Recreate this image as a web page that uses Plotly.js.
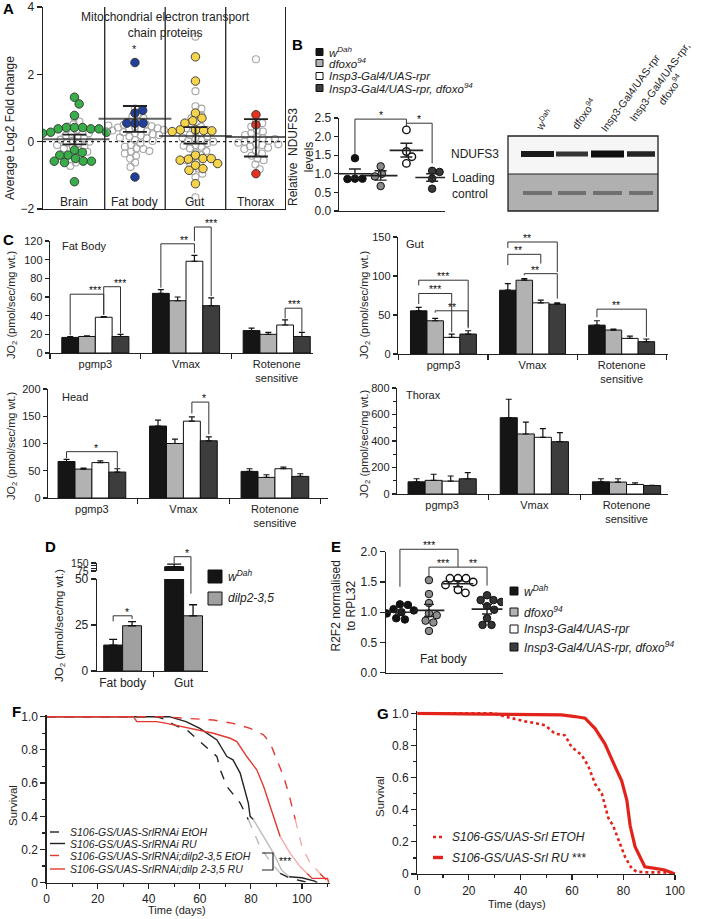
<!DOCTYPE html>
<html><head><meta charset="utf-8">
<script src="https://cdn.plot.ly/plotly-3.0.1.min.js"></script>
<style>html,body{margin:0;padding:0;background:#fff}#chart{width:709px;height:919px}</style>
</head><body><div id="chart"></div>
<script>
// ================= DATA =================
// Panel A
const aCategories = ['Brain', 'Fat body', 'Gut', 'Thorax'];
const aBrainOther = [0.72, 0.6, 0.52, 0.45, 0.35, 0.3, 0.22, 0.18, 0.15, 0.1, 0.06, 0.03, 0.0, -0.03, -0.06, -0.1, -0.13, -0.16, -0.2, -0.25, -0.3, -0.35, -0.45, -0.52, -0.62, -0.72, 0.25];
const aBrainETC = [1.32, 1.12, 0.78, 0.42, 0.42, 0.42, 0.38, 0.38, 0.38, 0.28, 0.28, 0.25, -0.25, -0.32, -0.40, -0.40, -0.50, -0.58, -0.58, -0.58, -0.62, -1.19];
const aFatOther = [0.98, 0.82, 0.75, 0.7, 0.62, 0.58, 0.52, 0.5, 0.46, 0.44, 0.42, 0.4, 0.38, 0.36, 0.33, 0.3, 0.28, 0.25, 0.22, 0.18, 0.15, 0.12, 0.1, 0.05, 0.02, -0.05, -0.1, -0.15, -0.2, -0.22, -0.28, -0.3, -0.35, -0.42, -0.5, -0.62, -0.75, 0.48, 0.35, 0.2];
const aFatETC = [2.35, 0.85, 0.93, 0.55, 0.55, 0.55, -1.05];
const aGutOther = [3.12, 1.5, 1.05, 0.98, 0.85, 0.78, 0.7, 0.6, 0.5, 0.45, 0.4, 0.3, 0.25, 0.2, 0.15, 0.1, 0.05, 0.02, -0.05, -0.1, -0.15, -0.2, -0.28, -0.32, -0.4, -0.48, -0.55, -0.62, -0.7, -0.8, -0.88, -0.95, -1.05, -1.65, 0.12, 0.0, -0.12, 0.35];
const aGutETC = [2.52, 1.8, 0.85, 0.7, 0.62, 0.55, 0.35, 0.33, 0.35, 0.32, 0.3, -0.4, -0.5, -0.52, -0.55, -0.5, -0.7, -0.8, -0.85, -0.65, -1.25];
const aThoraxOther = [2.45, 0.58, 0.55, 0.45, 0.35, 0.3, 0.25, 0.2, 0.14, 0.1, 0.06, 0.03, 0.0, -0.03, -0.06, -0.1, -0.14, -0.18, -0.22, -0.28, -0.35, -0.42, -0.5, -0.55, -0.68, -0.82, 0.08, -0.08];
const aThoraxETC = [0.8, 0.5, -0.95];
const aMean = [0.07, 0.68, 0.17, 0.14];
const aErrHigh = [0.21, 1.06, 0.43, 0.67];
const aErrLow = [-0.08, 0.29, -0.06, -0.44];

// Genotypes (B, C, E)
const genotypes = ['w<sup>Dah</sup>', 'dfoxo<sup>94</sup>', 'Insp3-Gal4/UAS-rpr', 'Insp3-Gal4/UAS-rpr, dfoxo<sup>94</sup>'];

// Panel B
const bValues = [[1.42, 0.87, 0.87, 0.86], [1.2, 1.0, 0.93, 0.67], [2.18, 1.6, 1.46, 1.28], [1.08, 1.05, 0.87, 0.6]];
const bMean = [1.0, 0.95, 1.63, 0.9];
const bSemLow = [0.88, 0.83, 1.45, 0.8];
const bSemHigh = [1.13, 1.08, 1.82, 1.0];
const blotLanes = ['w<sup>Dah</sup>', 'dfoxo<sup>94</sup>', 'Insp3-Gal4/UAS-rpr', 'Insp3-Gal4/UAS-rpr,<br>dfoxo<sup>94</sup>'];

// Panel C (rows = genotype, columns = measure)
const cMeasures = ['pgmp3', 'Vmax', 'Rotenone<br>sensitive'];
const cFatBody = [[16.7, 63.9, 24.0], [17.7, 56.0, 20.0], [38.3, 98.3, 30.0], [17.7, 50.7, 17.7]];
const cFatBodyErr = [[1.0, 4.1, 2.6], [0.8, 4.0, 2.0], [0.7, 6.4, 5.5], [2.3, 8.3, 4.3]];
const cGut = [[55.4, 81.8, 37.0], [42.6, 94.6, 30.7], [21.3, 65.6, 20.0], [25.6, 63.9, 15.8]];
const cGutErr = [[4.3, 8.5, 5.6], [3.0, 2.1, 1.3], [4.3, 3.4, 3.0], [4.2, 1.7, 3.4]];
const cHead = [[67, 132, 48.8], [53, 100, 37.8], [65, 141, 53.7], [47.6, 105, 39.6]];
const cHeadErr = [[4, 11, 4.9], [2, 8, 4.9], [3, 8, 3], [6.1, 7, 4.9]];
const cThorax = [[92, 576, 92], [103, 453, 90], [97, 428, 72], [115, 395, 64]];
const cThoraxErr = [[23, 139, 23], [46, 90, 25], [39, 65, 13], [47, 68, 2]];
// significance: [measure, genotypeA, genotypeB, bottomA, bottomB, top, label]
const cFatSig = [[0, 0, 2, 19, 41, 63, '***'], [0, 2, 3, 41, 21, 71, '***'], [1, 0, 2, 70, 107, 117, '**'], [1, 2, 3, 120, 61, 135, '***'], [2, 2, 3, 37, 23, 48, '***']];
const cGutSig = [[0, 0, 2, 64, 28, 77.6, '***'], [0, 0, 3, 88, 33, 94.6, '***'], [0, 1, 3, 53, 35, 55.4, '**'], [1, 0, 2, 114, 116, 127.8, '**'], [1, 0, 3, 136, 105, 143.6, '**'], [1, 1, 3, 101, 71, 103, '**'], [2, 0, 3, 47, 22, 57.5, '**']];
const cHeadSig = [[0, 0, 3, 73, 55, 85, '*'], [1, 2, 3, 155, 117, 176, '*']];

// Panel D
const dTissues = ['Fat body', 'Gut'];
const dGenotypes = ['w<sup>Dah</sup>', 'dilp2-3,5'];
const dValues = [[14.1, 115], [24.6, 30]];
const dErr = [[3.1, 25], [2.2, 6]];

// Panel E
const eValues = [[1.13, 1.12, 1.05, 1.03, 1.0, 0.98, 0.9, 0.88], [1.53, 1.3, 1.15, 0.98, 0.95, 0.86, 0.83, 0.69], [1.56, 1.56, 1.56, 1.5, 1.45, 1.37, 1.32], [1.28, 1.2, 1.2, 1.17, 1.1, 1.04, 0.9, 0.79, 0.79]];
const eMean = [1.0, 1.03, 1.47, 1.05];
const eSemLow = [0.97, 0.93, 1.42, 0.97];
const eSemHigh = [1.04, 1.13, 1.52, 1.13];

// Panel F (survival)
const fNames = ['S106-GS/UAS-SrlRNAi EtOH', 'S106-GS/UAS-SrlRNAi RU', 'S106-GS/UAS-SrlRNAi;dilp2-3,5 EtOH', 'S106-GS/UAS-SrlRNAi;dilp 2-3,5 RU'];
const fDaysEtOH = [0, 43, 47, 50, 54.9, 60, 66.7, 68, 70.6, 75.8, 78.4, 79, 83.6, 87.6, 91.5, 95.4, 100, 103];
const fSurvEtOH = [1, 1, 0.98, 0.95, 0.92, 0.85, 0.76, 0.68, 0.58, 0.48, 0.40, 0.38, 0.217, 0.127, 0.056, 0.026, 0.01, 0];
const fDaysRU = [0, 48, 54.6, 60, 66.7, 70.6, 73, 75.8, 79, 79.7, 81, 85, 88.9, 92, 95, 100, 105, 106];
const fSurvRU = [1, 1, 0.97, 0.93, 0.86, 0.76, 0.74, 0.66, 0.48, 0.40, 0.38, 0.277, 0.177, 0.077, 0.036, 0.03, 0.01, 0];
const fDaysDilpEtOH = [0, 45.7, 54.9, 65.3, 73, 79.7, 85, 87.6, 90.2, 92.8, 94.8, 96.8, 97.4, 100, 103.9, 105.9, 107, 110];
const fSurvDilpEtOH = [1, 1, 0.99, 0.98, 0.96, 0.93, 0.89, 0.84, 0.74, 0.64, 0.54, 0.42, 0.38, 0.217, 0.097, 0.077, 0.056, 0.01];
const fDaysDilpRU = [0, 34, 35.3, 43, 47, 60, 65.3, 71.9, 74.5, 78.4, 82.3, 85, 87.6, 88.9, 91.5, 95.4, 99.3, 102, 104, 110, 110.5];
const fSurvDilpRU = [1, 1, 0.97, 0.97, 0.96, 0.92, 0.90, 0.87, 0.85, 0.76, 0.68, 0.58, 0.46, 0.40, 0.277, 0.177, 0.097, 0.056, 0.026, 0.026, 0];

// Panel G (survival)
const gNames = ['S106-GS/UAS-Srl ETOH', 'S106-GS/UAS-Srl RU'];
const gDaysETOH = [0, 30, 34, 36.6, 41.8, 45.7, 49.6, 53.4, 57.3, 59.9, 63.8, 66.4, 69, 71.6, 74.1, 76, 78, 80.6, 83.2, 85.1, 90, 96, 100];
const gSurvETOH = [1, 1, 0.98, 0.97, 0.95, 0.94, 0.925, 0.874, 0.863, 0.79, 0.74, 0.67, 0.56, 0.50, 0.35, 0.30, 0.21, 0.107, 0.035, 0.014, 0.01, 0.01, 0];
const gDaysRU = [0, 56, 61.2, 65.1, 69, 72.8, 76.7, 79.3, 81.3, 82.6, 84.5, 88.3, 92.2, 96, 100];
const gSurvRU = [1, 0.99, 0.98, 0.97, 0.905, 0.81, 0.67, 0.58, 0.46, 0.30, 0.17, 0.045, 0.035, 0.025, 0];

// ================= LAYOUT HELPERS =================
const FONT = 'Liberation Sans, Arial, Helvetica, sans-serif';
const INK = '#222';
const W = 709, H = 919;
const X = px => px / W, Y = py => 1 - py / H;
const genoFill = ['#151515', '#b2b2b2', '#ffffff', '#3d3d3d'];

const P = {
  A: {n: 1, x: [X(43), X(285)], y: [Y(209), Y(7)], rx: [-0.52, 3.48], ry: [-2, 4]},
  B: {n: 2, x: [X(339), X(445)], y: [Y(211), Y(118)], rx: [-0.62, 3.5], ry: [0, 2.5]},
  C1: {n: 3, x: [X(50), X(313)], y: [Y(353), Y(241)], rx: [-0.5, 2.4], ry: [0, 120]},
  C2: {n: 4, x: [X(398), X(668)], y: [Y(354), Y(237)], rx: [-0.51, 2.52], ry: [0, 150]},
  C3: {n: 5, x: [X(48), X(328)], y: [Y(498), Y(389)], rx: [-0.48, 2.58], ry: [0, 200]},
  C4: {n: 6, x: [X(397), X(668)], y: [Y(494), Y(388)], rx: [-0.49, 2.45], ry: [0, 800]},
  D1: {n: 7, x: [X(97), X(208)], y: [Y(671), Y(579)], rx: [-0.42, 1.4], ry: [0, 50]},
  D2: {n: 8, x: [X(97), X(208)], y: [Y(571), Y(563)], rx: [-0.42, 1.4], ry: [75, 150]},
  E: {n: 9, x: [X(386), X(503)], y: [Y(672.7), Y(551.7)], rx: [-0.48, 3.55], ry: [0, 2]},
  F: {n: 10, x: [X(46.7), X(330)], y: [Y(882.7), Y(714.7)], rx: [0, 111], ry: [0, 1.012]},
  G: {n: 11, x: [X(417.3), X(675)], y: [Y(874), Y(711.4)], rx: [0, 100], ry: [0, 1.012]}
};
const xr = p => 'x' + (p.n === 1 ? '' : p.n);
const yr = p => 'y' + (p.n === 1 ? '' : p.n);
const M = p => ({
  x: v => p.x[0] + (v - p.rx[0]) / (p.rx[1] - p.rx[0]) * (p.x[1] - p.x[0]),
  y: v => p.y[0] + (v - p.ry[0]) / (p.ry[1] - p.ry[0]) * (p.y[1] - p.y[0])
});

const traces = [], shapes = [], annotations = [];
const layout = {
  width: W, height: H, margin: {l: 0, r: 0, t: 0, b: 0}, paper_bgcolor: '#fff', plot_bgcolor: 'rgba(0,0,0,0)',
  showlegend: false, barmode: 'overlay', hovermode: false, font: {family: FONT, color: INK, size: 11}
};

function axis(p, which, extra) {
  return Object.assign({
    domain: p[which], range: p['r' + which], anchor: which === 'x' ? yr(p) : xr(p),
    showgrid: false, zeroline: false, showline: true, linecolor: INK, linewidth: 1.3,
    ticks: 'outside', ticklen: 4, tickwidth: 1.2, tickcolor: INK,
    tickfont: {family: FONT, size: 11, color: INK}, fixedrange: true
  }, extra || {});
}
function setAxes(p, xe, ye) {
  layout['xaxis' + (p.n === 1 ? '' : p.n)] = axis(p, 'x', xe);
  layout['yaxis' + (p.n === 1 ? '' : p.n)] = axis(p, 'y', ye);
}
function txt(px, py, text, o) {
  annotations.push(Object.assign({xref: 'paper', yref: 'paper', x: X(px), y: Y(py), text: text, showarrow: false,
    xanchor: 'center', yanchor: 'middle', font: {family: FONT, size: 12, color: INK}}, o || {}));
}
function pxLine(x0, y0, x1, y1, o) {
  shapes.push(Object.assign({type: 'line', xref: 'paper', yref: 'paper', x0: X(x0), y0: Y(y0), x1: X(x1), y1: Y(y1), line: {color: INK, width: 1}}, o || {}));
}
const STAR = {family: FONT, size: 10.5, color: '#111'};
function bracket(p, x1, b1, x2, b2, top, label, lx) {
  const m = M(p);
  let path = 'M' + m.x(x1) + ',' + m.y(b1) + 'L' + m.x(x1) + ',' + m.y(top) + 'L' + m.x(x2) + ',' + m.y(top);
  if (b2 !== null) path += 'L' + m.x(x2) + ',' + m.y(b2);
  shapes.push({type: 'path', xref: 'paper', yref: 'paper', path: path, line: {color: '#333', width: 1}});
  if (label) annotations.push({xref: 'paper', yref: 'paper', x: m.x(lx === undefined ? (x1 + x2) / 2 : lx), y: m.y(top),
    yanchor: 'bottom', yshift: -4, text: label, showarrow: false, font: STAR});
}
// simple beeswarm: returns horizontal offsets (data units) for values
function swarm(vals, pxX, pxY, diam, placed) {
  return vals.map(v => {
    const y = v * pxY;
    const cands = [0];
    placed.forEach(q => {
      const dy = Math.abs(q.y - y);
      if (dy < diam) { const dx = Math.sqrt(diam * diam - dy * dy); cands.push(q.x + dx + 0.01, q.x - dx - 0.01); }
    });
    cands.sort((a, b) => Math.abs(a) - Math.abs(b));
    let chosen = 0;
    for (const c of cands) {
      if (placed.every(q => (q.x - c) ** 2 + (q.y - y) ** 2 >= diam * diam - 0.01)) { chosen = c; break; }
    }
    placed.push({x: chosen, y: y});
    return chosen / pxX;
  });
}

// ================= PANEL A =================
(function () {
  const p = P.A;
  setAxes(p, {showticklabels: false, ticks: ''}, {tickvals: [-2, 0, 2, 4], ticklen: 5, mirror: true, tickfont: {family: FONT, size: 12, color: INK}});
  const others = [aBrainOther, aFatOther, aGutOther, aThoraxOther];
  const etc = [aBrainETC, aFatETC, aGutETC, aThoraxETC];
  const cols = ['#39ad4a', '#21409a', '#f5d44b', '#e3321f'];
  aCategories.forEach((c, i) => {
    const oo = swarm(others[i], 60.5, 33.7, 6.4, []);
    const oc = swarm(etc[i], 60.5, 33.7, 8.2, []);
    traces.push({type: 'scatter', mode: 'markers', x: oo.map(o => i + o), y: others[i], xaxis: xr(p), yaxis: yr(p),
      marker: {symbol: 'circle-open', size: 7, color: '#a6a6a6', line: {width: 1.1}}});
    traces.push({type: 'scatter', mode: 'markers', x: oc.map(o => i + o), y: etc[i], xaxis: xr(p), yaxis: yr(p),
      marker: {symbol: 'circle', size: 8.5, color: cols[i], line: {width: 0.9, color: '#333'}}});
    annotations.push({xref: xr(p), yref: yr(p), x: i, y: -1.8, text: c, showarrow: false, font: {family: FONT, size: 12, color: INK}});
  });
  traces.push({type: 'scatter', mode: 'markers', x: [0, 1, 2, 3], y: aMean, xaxis: xr(p), yaxis: yr(p),
    marker: {symbol: 'line-ew', size: [50, 52, 52, 44], line: {width: 2, color: INK}},
    error_y: {type: 'data', symmetric: false, array: aErrHigh.map((h, i) => h - aMean[i]), arrayminus: aErrLow.map((l, i) => aMean[i] - l), width: 12, thickness: 1.8, color: INK}});
  [0.5, 1.5, 2.5].forEach(v => shapes.push({type: 'line', xref: xr(p), yref: yr(p), x0: v, x1: v, y0: -2, y1: 4, line: {color: INK, width: 1.3}}));
  shapes.push({type: 'line', xref: xr(p), yref: yr(p), x0: p.rx[0], x1: p.rx[1], y0: 0, y1: 0, line: {color: INK, width: 1.2, dash: 'dot'}});
  annotations.push({xref: xr(p), yref: yr(p), x: 1.5, y: 3.47, text: 'Mitochondrial electron transport<br>chain proteins', showarrow: false, font: {family: FONT, size: 12, color: INK}});
  annotations.push({xref: xr(p), yref: yr(p), x: 1, y: 2.75, text: '*', showarrow: false, font: {family: FONT, size: 11, color: INK}});
  txt(10, 128, 'Average Log2 Fold change', {textangle: -90});
})();

// ================= PANEL B =================
(function () {
  const p = P.B;
  setAxes(p, {showticklabels: false, ticks: ''}, {dtick: 0.5, tickformat: '.1f', tickfont: {family: FONT, size: 12, color: INK}});
  const fills = ['#111', '#8a8a8a', '#fff', '#3a3a3a'];
  bValues.forEach((vals, g) => {
    const off = swarm(vals, 25.7, 37, 7.5, []);
    traces.push({type: 'scatter', mode: 'markers', x: off.map(o => g + o), y: vals, xaxis: xr(p), yaxis: yr(p),
      marker: {symbol: 'circle', size: 7.5, color: fills[g], line: {width: g === 2 ? 1.4 : 1, color: '#111'}}});
  });
  traces.push({type: 'scatter', mode: 'markers', x: [0, 1, 2, 3], y: bMean, xaxis: xr(p), yaxis: yr(p),
    marker: {symbol: 'line-ew', size: 24, line: {width: 1.6, color: INK}},
    error_y: {type: 'data', symmetric: false, array: bSemHigh.map((h, i) => h - bMean[i]), arrayminus: bSemLow.map((l, i) => bMean[i] - l), width: 6, thickness: 1.4, color: INK}});
  bracket(p, 0, 1.5, 2, 2.27, 2.47, '*');
  bracket(p, 2, 2.36, 3, 1.28, 2.36, '*');
  txt(301, 157, 'Relative  NDUFS3<br>levels', {textangle: -90});
  // legend (B)
  const ly = [52, 63, 76, 88];
  genotypes.forEach((gname, g) => {
    shapes.push({type: 'rect', xref: 'paper', yref: 'paper', x0: X(316), x1: X(323), y0: Y(ly[g] + 3.5), y1: Y(ly[g] - 3.5), fillcolor: genoFill[g], line: {color: '#111', width: 1}});
    txt(327, ly[g], '<i>' + gname + '</i>', {xanchor: 'left', font: {family: FONT, size: 11.5, color: INK}});
  });
  // western blot
  shapes.push({type: 'rect', xref: 'paper', yref: 'paper', x0: X(508), x1: X(658), y0: Y(174), y1: Y(136), fillcolor: '#f6f6f6', line: {width: 0}});
  shapes.push({type: 'rect', xref: 'paper', yref: 'paper', x0: X(508), x1: X(658), y0: Y(211), y1: Y(174), fillcolor: '#b0b0b0', line: {width: 0}});
  const laneX = [[521, 554], [556, 588], [591, 624], [627, 655]];
  const bandH = [6, 5, 7, 5.5], bandC = ['#1a1a1a', '#353535', '#0e0e0e', '#252525'];
  laneX.forEach((lx, i) => {
    shapes.push({type: 'rect', xref: 'paper', yref: 'paper', x0: X(lx[0]), x1: X(lx[1]), y0: Y(154 + bandH[i] / 2), y1: Y(154 - bandH[i] / 2), fillcolor: bandC[i], line: {width: 0}});
    shapes.push({type: 'rect', xref: 'paper', yref: 'paper', x0: X(lx[0] + 2), x1: X(lx[1] - 2), y0: Y(195), y1: Y(191), fillcolor: '#707070', line: {width: 0}});
  });
  shapes.push({type: 'rect', xref: 'paper', yref: 'paper', x0: X(508), x1: X(658), y0: Y(211), y1: Y(136), line: {color: INK, width: 1.3}});
  pxLine(508, 174, 658, 174, {line: {color: INK, width: 1.2}});
  const lc = [[544, 120], [583, 113], [630, 93], [665, 86]];
  blotLanes.forEach((t, i) => txt(lc[i][0], lc[i][1], t, {textangle: -54, font: {family: FONT, size: 10.5, color: INK}}));
  txt(449, 154, 'NDUFS3', {xanchor: 'left'});
  txt(450, 186, 'Loading<br>control', {xanchor: 'left', align: 'left'});
})();

// ================= PANEL C =================
(function () {
  const barPos = g => -0.2775 + g * 0.185;
  const sets = [
    [P.C1, cFatBody, cFatBodyErr, 20, 'Fat Body', [60, 246], [12, 305], cFatSig, null],
    [P.C2, cGut, cGutErr, 50, 'Gut', [404, 244], [365, 305], cGutSig, null],
    [P.C3, cHead, cHeadErr, 50, 'Head', [60, 397], [12, 446], cHeadSig, null],
    [P.C4, cThorax, cThoraxErr, 200, 'Thorax', [404, 395], [365, 444], [], 100]
  ];
  sets.forEach(([p, vals, errs, dt, name, lp, tp, sig, minor]) => {
    const ye = {dtick: dt};
    if (minor) ye.minor = {dtick: minor, ticks: 'outside', ticklen: 2.5, tickcolor: INK};
    setAxes(p, {type: 'category', categoryarray: cMeasures, tickson: 'boundaries', ticklen: 5}, ye);
    vals.forEach((v, g) => traces.push({type: 'bar', x: cMeasures, y: v, width: 0.185, offset: -0.37 + g * 0.185,
      xaxis: xr(p), yaxis: yr(p), marker: {color: genoFill[g], line: {color: '#111', width: 1}},
      error_y: {type: 'data', symmetric: false, array: errs[g], arrayminus: v.map(() => 0), width: 3, thickness: 1.2, color: '#111'}}));
    sig.forEach(s => bracket(p, s[0] + barPos(s[1]), s[3], s[0] + barPos(s[2]), s[4], s[5], s[6]));
    txt(lp[0], lp[1], name, {xanchor: 'left', font: {family: FONT, size: 11, color: INK}});
    txt(tp[0], tp[1], 'JO<sub>2</sub> (pmol/sec/mg wt.)', {textangle: -90, font: {family: FONT, size: 11, color: INK}});
  });
})();

// ================= PANEL D =================
(function () {
  const p1 = P.D1, p2 = P.D2;
  setAxes(p1, {type: 'category', categoryarray: dTissues, tickson: 'boundaries', ticklen: 5, tickfont: {family: FONT, size: 12, color: INK}},
    {tickvals: [0, 25, 50], ticklen: 5, tickfont: {family: FONT, size: 12, color: INK}});
  setAxes(p2, {type: 'category', categoryarray: dTissues, visible: false},
    {tickvals: [75, 100, 125, 150], ticktext: ['75', '', '', '150'], ticklen: 5, tickfont: {family: FONT, size: 10.5, color: INK}});
  const fills = ['#151515', '#a0a0a0'];
  [p1, p2].forEach(p => dValues.forEach((v, g) => traces.push({type: 'bar', x: dTissues, y: v, width: 0.31, offset: -0.31 + g * 0.31,
    xaxis: xr(p), yaxis: yr(p), marker: {color: fills[g], line: {color: '#111', width: 1}},
    error_y: {type: 'data', symmetric: false, array: dErr[g], arrayminus: v.map(() => 0), width: p === p2 ? 7 : 4, thickness: 1.3, color: '#111'}})));
  bracket(p1, -0.155, 27, 0.155, 28.3, 30, '*');
  const m1 = M(p1), m2 = M(p2);
  shapes.push({type: 'path', xref: 'paper', yref: 'paper', line: {color: '#333', width: 1},
    path: 'M' + m2.x(0.845) + ',' + Y(563.5) + 'L' + m2.x(0.845) + ',' + Y(556.7) + 'L' + m1.x(1.12) + ',' + Y(556.7) + 'L' + m1.x(1.12) + ',' + m1.y(42)});
  annotations.push({xref: 'paper', yref: 'paper', x: (m2.x(0.845) + m1.x(1.12)) / 2, y: Y(556.7), yanchor: 'bottom', yshift: -4, text: '*', showarrow: false, font: STAR});
  txt(60, 625, 'JO<sub>2</sub> (pmol/sec/mg wt.)', {textangle: -90, font: {family: FONT, size: 11.5, color: INK}});
  shapes.push({type: 'rect', xref: 'paper', yref: 'paper', x0: X(208), x1: X(222), y0: Y(583), y1: Y(570), fillcolor: '#151515', line: {color: '#111', width: 1}});
  shapes.push({type: 'rect', xref: 'paper', yref: 'paper', x0: X(208), x1: X(222), y0: Y(605), y1: Y(592), fillcolor: '#a0a0a0', line: {color: '#111', width: 1}});
  txt(226, 576, '<i>' + dGenotypes[0] + '</i>', {xanchor: 'left'});
  txt(226, 598, '<i>' + dGenotypes[1] + '</i>', {xanchor: 'left'});
})();

// ================= PANEL E =================
(function () {
  const p = P.E;
  setAxes(p, {showticklabels: false, ticks: ''}, {dtick: 0.5, tickformat: '.1f', ticklen: 5, tickfont: {family: FONT, size: 12, color: INK}});
  const fills = ['#111', '#8f8f8f', '#fff', '#333'];
  eValues.forEach((vals, g) => {
    const off = swarm(vals, 29, 60.4, 8, []);
    traces.push({type: 'scatter', mode: 'markers', x: off.map(o => g + o), y: vals, xaxis: xr(p), yaxis: yr(p),
      marker: {symbol: 'circle', size: 7.5, color: fills[g], line: {width: g === 2 ? 1.4 : 1, color: '#111'}}});
  });
  traces.push({type: 'scatter', mode: 'markers', x: [0, 1, 2, 3], y: eMean, xaxis: xr(p), yaxis: yr(p),
    marker: {symbol: 'line-ew', size: 22, line: {width: 1.6, color: INK}},
    error_y: {type: 'data', symmetric: false, array: eSemHigh.map((h, i) => h - eMean[i]), arrayminus: eSemLow.map((l, i) => eMean[i] - l), width: 5, thickness: 1.4, color: INK}});
  bracket(p, 0, 1.42, 2, 1.9, 2.04, '***');
  bracket(p, 1, 1.57, 3, 1.44, 1.745, null);
  bracket(p, 2, 1.745, 2, 1.9, 1.9, null);
  const m = M(p);
  [['***', 1.5], ['**', 2.5]].forEach(([t, x]) => annotations.push({xref: 'paper', yref: 'paper', x: m.x(x), y: m.y(1.745), yanchor: 'bottom', yshift: -4, text: t, showarrow: false, font: STAR}));
  annotations.push({xref: xr(p), yref: yr(p), x: 1.5, y: 0.22, text: 'Fat body', showarrow: false, font: {family: FONT, size: 12, color: INK}});
  txt(343.5, 606, 'R2F2 normalised<br>to RPL32', {textangle: -90});
  const ly = [591, 612, 629, 647];
  genotypes.forEach((gname, g) => {
    shapes.push({type: 'rect', xref: 'paper', yref: 'paper', x0: X(510), x1: X(518), y0: Y(ly[g] + 4), y1: Y(ly[g] - 4), fillcolor: genoFill[g], line: {color: '#111', width: 1}});
    txt(522, ly[g], '<i>' + gname + '</i>', {xanchor: 'left'});
  });
})();

// ================= PANEL F =================
(function () {
  const p = P.F;
  setAxes(p, {tickvals: [0, 20, 40, 60, 80, 100], ticklen: 5, tickfont: {family: FONT, size: 12, color: INK}, minor: {dtick: 10, tick0: 0, ticks: 'outside', ticklen: 3, tickcolor: INK}},
    {tickvals: [0, 0.2, 0.4, 0.6, 0.8, 1.0], ticktext: ['0', '0.2', '0.4', '0.6', '0.8', '1.0'], ticklen: 5, tickfont: {family: FONT, size: 12, color: INK}, minor: {dtick: 0.1, tick0: 0, ticks: 'outside', ticklen: 3, tickcolor: INK}});
  const red = '#e3392f';
  const series = [[fDaysEtOH, fSurvEtOH, INK, '#bdbdbd', 'dash'], [fDaysRU, fSurvRU, INK, '#bdbdbd', 'solid'],
    [fDaysDilpEtOH, fSurvDilpEtOH, red, '#f5aaa4', 'dash'], [fDaysDilpRU, fSurvDilpRU, red, '#f5aaa4', 'solid']];
  const ly = [832, 843.5, 855.5, 869];
  series.forEach(([d, s, c, faded, dash], i) => {
    // the printed figure fades each curve between ~0.39 and ~0.06 survival
    const k1 = s.findIndex(v => v <= 0.39), k2 = s.findIndex(v => v <= 0.06);
    const segs = [[0, k1 + 1, c], [k1, k2 + 1, faded], [k2, s.length, c]];
    segs.forEach(([a, b, col]) => traces.push({type: 'scatter', mode: 'lines', x: d.slice(a, b), y: s.slice(a, b), xaxis: xr(p), yaxis: yr(p), line: {color: col, width: 1.4, dash: dash}}));
    pxLine(50, ly[i], 65, ly[i], {line: {color: c, width: 1.4, dash: dash === 'dash' ? 'dash' : 'solid'}});
    txt(68, ly[i], '<i>' + fNames[i] + '</i>', {xanchor: 'left', font: {family: FONT, size: 10.5, color: INK}});
  });
  shapes.push({type: 'path', xref: 'paper', yref: 'paper', line: {color: INK, width: 1.2},
    path: 'M' + X(262) + ',' + Y(853) + 'L' + X(273) + ',' + Y(853) + 'L' + X(273) + ',' + Y(870) + 'L' + X(262) + ',' + Y(870)});
  txt(285, 861, '***', {font: STAR});
  txt(13, 806, 'Survival', {textangle: -90, font: {family: FONT, size: 11.5, color: INK}});
  txt(177, 910, 'Time (days)', {font: {family: FONT, size: 11, color: INK}});
})();

// ================= PANEL G =================
(function () {
  const p = P.G;
  setAxes(p, {tickvals: [0, 20, 40, 60, 80, 100], ticklen: 5, tickfont: {family: FONT, size: 12, color: INK}, minor: {dtick: 10, tick0: 0, ticks: 'outside', ticklen: 3, tickcolor: INK}},
    {tickvals: [0, 0.2, 0.4, 0.6, 0.8, 1.0], ticktext: ['0', '0.2', '0.4', '0.6', '0.8', '1.0'], ticklen: 5, tickfont: {family: FONT, size: 12, color: INK}, minor: {dtick: 0.1, tick0: 0, ticks: 'outside', ticklen: 3, tickcolor: INK}});
  const red = '#e2231a';
  traces.push({type: 'scatter', mode: 'lines', x: gDaysETOH, y: gSurvETOH, xaxis: xr(p), yaxis: yr(p), line: {color: red, width: 2.6, dash: 'dot'}});
  traces.push({type: 'scatter', mode: 'lines', x: gDaysRU, y: gSurvRU, xaxis: xr(p), yaxis: yr(p), line: {color: red, width: 3.2}});
  pxLine(433, 837, 443, 837, {line: {color: red, width: 2.6, dash: 'dot'}});
  pxLine(433, 857.5, 443, 857.5, {line: {color: red, width: 3.4}});
  txt(450, 837, '<i>' + gNames[0] + '</i>', {xanchor: 'left'});
  txt(450, 857.5, '<i>' + gNames[1] + '</i> ***', {xanchor: 'left'});
  txt(380, 797, 'Survival', {textangle: -90, font: {family: FONT, size: 11.5, color: INK}});
  txt(517, 904, 'Time (days)', {font: {family: FONT, size: 11, color: INK}});
})();

// ================= PANEL LETTERS =================
[['A', 8, 9], ['B', 297, 44], ['C', 8, 239], ['D', 50, 546], ['E', 336, 546], ['F', 16, 711], ['G', 383, 713]].forEach(([t, x, y]) =>
  txt(x, y, '<b>' + t + '</b>', {font: {family: FONT, size: 15, color: '#000'}}));

traces.forEach(t => { t.showlegend = false; t.hoverinfo = 'skip'; });
layout.shapes = shapes;
layout.annotations = annotations;
Plotly.newPlot('chart', traces, layout, {staticPlot: true, displayModeBar: false});
</script>
</body></html>
